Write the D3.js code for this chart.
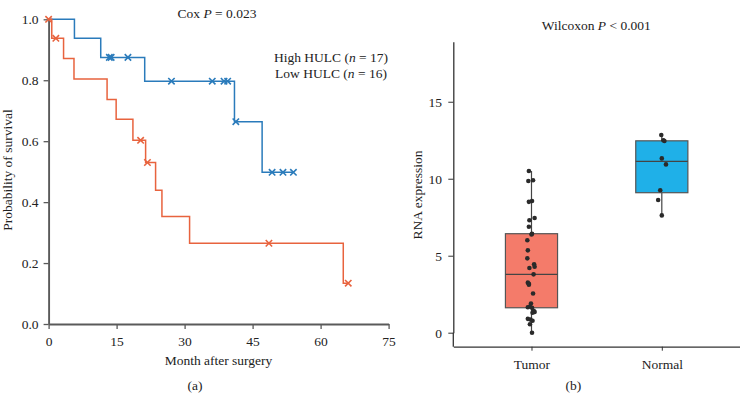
<!DOCTYPE html>
<html>
<head>
<meta charset="utf-8">
<script src="https://cdn.jsdelivr.net/npm/d3@7"></script>
<style>
html,body{margin:0;padding:0;background:#fff;}
svg{display:block;font-family:"Liberation Serif","Times New Roman",serif;}
</style>
</head>
<body>
<svg id="chart" width="740" height="405"></svg>
<script>
// ---------- Data (a): Kaplan-Meier ----------
const kmXTicks = [0, 15, 30, 45, 60, 75];
const kmYTicks = [0.0, 0.2, 0.4, 0.6, 0.8, 1.0];
const highEventTimes = [5.7, 11.5, 21.2, 41.0, 47.1];
const highSurvival   = [0.9375, 0.875, 0.797, 0.664, 0.498];
const highCensorTimes = [13.4, 13.8, 17.5, 27.1, 36.1, 38.7, 39.5, 41.3, 49.3, 51.7, 54.0];
const highEnd = 54.0;
const lowEventTimes = [0.7, 3.3, 5.6, 12.9, 14.9, 18.6, 21.4, 23.6, 25.0, 31.1, 65.0];
const lowSurvival   = [0.9375, 0.871, 0.804, 0.737, 0.672, 0.603, 0.53, 0.439, 0.353, 0.265, 0.134];
const lowCensorTimes = [0, 1.6, 20.3, 21.8, 48.6, 66.1];
const lowEnd = 66.1;

// ---------- Data (b): box plot ----------
const groups = ["Tumor", "Normal"];
const rnaYTicks = [0, 5, 10, 15];
const tumorValues = [10.5, 9.9, 9.85, 8.55, 8.5, 7.45, 7.3, 6.88, 6.43, 6.38, 6.0, 5.35, 4.83, 4.45, 4.28, 4.2, 3.79,
  3.25, 3.18, 3.12, 2.55, 1.9, 1.7, 1.65, 1.62, 1.42, 1.35, 1.3, 0.9, 0.85, 0.78, 0.55, 0.0];
const tumorJitter = [-0.05, 0.03, -0.06, 0.01, -0.05, 0.06, -0.04, -0.05, 0.01, 0.0, -0.08, -0.07, -0.08, 0.05, 0.06, -0.04, 0.04,
  -0.07, -0.05, -0.05, 0.03, -0.01, -0.03, -0.07, 0.01, 0.04, 0.06, 0.02, -0.07, -0.02, 0.02, -0.03, 0.01];
const normalValues = [12.84, 12.5, 12.45, 11.32, 10.93, 9.25, 8.62, 7.62];
const normalJitter = [-0.01, 0.03, 0.05, 0.0, 0.08, -0.03, -0.07, 0.0];

// ---------- Setup ----------
const svg = d3.select("#chart");
const serif = '"Liberation Serif","Times New Roman",serif';
const FS = 13.5;
const blue = "#2a7bbb", red = "#e8633e";

// ===== Panel (a) =====
const xA = d3.scaleLinear().domain([0, 75]).range([48.6, 388.6]);
const yA = d3.scaleLinear().domain([0, 1]).range([324, 19.3]);

const gA = svg.append("g");
const axXA = gA.append("g").attr("transform", `translate(0,${yA(0)})`)
  .call(d3.axisBottom(xA).tickValues(kmXTicks).tickFormat(d3.format("d")).tickSize(5).tickSizeOuter(0));
const axYA = gA.append("g").attr("transform", `translate(${xA(0)},0)`)
  .call(d3.axisLeft(yA).tickValues(kmYTicks).tickFormat(d3.format(".1f")).tickSize(5).tickSizeOuter(0));
[axXA, axYA].forEach(a => {
  a.select(".domain").attr("stroke", "#5a5a5a").attr("stroke-width", 1.9);
  a.selectAll(".tick line").attr("stroke", "#5a5a5a").attr("stroke-width", 1.3);
  a.selectAll(".tick text").attr("font-family", serif).attr("font-size", FS).attr("fill", "#222");
});
axXA.selectAll(".tick text").attr("dy", "1.0em");
axYA.selectAll(".tick text").attr("dx", "-0.15em");

function stepPath(times, surv, end) {
  const pts = [[0, 1]];
  let s = 1;
  times.forEach((t, i) => { pts.push([t, s]); s = surv[i]; pts.push([t, s]); });
  pts.push([end, s]);
  return d3.line().x(d => xA(d[0])).y(d => yA(d[1]))(pts);
}
function survAt(times, surv, t) {
  let s = 1;
  times.forEach((et, i) => { if (et <= t) s = surv[i]; });
  return s;
}
function drawCurve(times, surv, end, censor, color) {
  gA.append("path").attr("d", stepPath(times, surv, end))
    .attr("fill", "none").attr("stroke", color).attr("stroke-width", 1.5);
  const m = 3.2;
  censor.forEach(t => {
    const cx = xA(t), cy = yA(survAt(times, surv, t));
    gA.append("path")
      .attr("d", `M${cx - m},${cy - m}L${cx + m},${cy + m}M${cx - m},${cy + m}L${cx + m},${cy - m}`)
      .attr("stroke", color).attr("stroke-width", 1.6).attr("fill", "none");
  });
}
drawCurve(highEventTimes, highSurvival, highEnd, highCensorTimes, blue);
drawCurve(lowEventTimes, lowSurvival, lowEnd, lowCensorTimes, red);

const tA = gA.append("text").attr("x", 217).attr("y", 18).attr("text-anchor", "middle")
  .attr("font-size", FS).attr("fill", "#222");
tA.append("tspan").text("Cox ");
tA.append("tspan").attr("font-style", "italic").text("P");
tA.append("tspan").text(" = 0.023");

[["High HULC (", "n", " = 17)", 62], ["Low HULC (", "n", " = 16)", 78]].forEach(d => {
  const t = gA.append("text").attr("x", 331).attr("y", d[3]).attr("text-anchor", "middle")
    .attr("font-size", FS).attr("fill", "#222");
  t.append("tspan").text(d[0]);
  t.append("tspan").attr("font-style", "italic").text(d[1]);
  t.append("tspan").text(d[2]);
});

gA.append("text").attr("x", 218.5).attr("y", 365).attr("text-anchor", "middle")
  .attr("font-size", FS).attr("fill", "#222").text("Month after surgery");
gA.append("text").attr("transform", "translate(12,170) rotate(-90)").attr("text-anchor", "middle")
  .attr("font-size", FS).attr("fill", "#222").text("Probability of survival");
gA.append("text").attr("x", 195).attr("y", 390).attr("text-anchor", "middle")
  .attr("font-size", FS).attr("fill", "#222").text("(a)");

// ===== Panel (b) =====
const xB = d3.scalePoint().domain(groups).range([453.3, 740]).padding(0.6);
const yB = d3.scaleLinear().domain([0, 18.9]).range([332.7, 41.7]);
const boxW = xB.step() * 0.4;

const gB = svg.append("g");
const axYB = gB.append("g").attr("transform", `translate(453.3,0)`)
  .call(d3.axisLeft(yB).tickValues(rnaYTicks).tickSize(5).tickSizeOuter(0));
const axXB = gB.append("g").attr("transform", `translate(0,346.7)`)
  .call(d3.axisBottom(xB).tickSize(4).tickSizeOuter(0));
gB.append("line").attr("x1", 453.3).attr("x2", 453.3).attr("y1", yB(0)).attr("y2", 346.7)
  .attr("stroke", "#333").attr("stroke-width", 1.3);
[axXB, axYB].forEach(a => {
  a.select(".domain").attr("stroke", "#333").attr("stroke-width", 1.3);
  a.selectAll(".tick line").attr("stroke", "#333").attr("stroke-width", 1);
  a.selectAll(".tick text").attr("font-family", serif).attr("font-size", FS).attr("fill", "#222");
});
axYB.selectAll(".tick text").attr("dx", "-0.25em");
axXB.selectAll(".tick text").attr("dy", "1.1em");

const fills = { Tumor: "#f47b6a", Normal: "#1fb0e8" };
const dataB = { Tumor: [tumorValues, tumorJitter], Normal: [normalValues, normalJitter] };
groups.forEach(g => {
  const vals = dataB[g][0].slice().sort(d3.ascending);
  const q1 = d3.quantile(vals, 0.25), med = d3.quantile(vals, 0.5), q3 = d3.quantile(vals, 0.75);
  const iqr = q3 - q1;
  const lo = d3.min(vals.filter(v => v >= q1 - 1.5 * iqr));
  const hi = d3.max(vals.filter(v => v <= q3 + 1.5 * iqr));
  const cx = xB(g);
  gB.append("line").attr("x1", cx).attr("x2", cx).attr("y1", yB(hi)).attr("y2", yB(lo))
    .attr("stroke", "#444").attr("stroke-width", 1.2);
  gB.append("rect").attr("x", cx - boxW / 2).attr("width", boxW)
    .attr("y", yB(q3)).attr("height", yB(q1) - yB(q3))
    .attr("fill", fills[g]).attr("stroke", "#555").attr("stroke-width", 1.2);
  gB.append("line").attr("x1", cx - boxW / 2).attr("x2", cx + boxW / 2).attr("y1", yB(med)).attr("y2", yB(med))
    .attr("stroke", "#444").attr("stroke-width", 1.2);
  const [v, j] = dataB[g];
  gB.selectAll(null).data(v).enter().append("circle")
    .attr("cx", (d, i) => cx + j[i] * boxW).attr("cy", d => yB(d)).attr("r", 2.3)
    .attr("fill", "#2a2a2a");
});

const tB = gB.append("text").attr("x", 596.3).attr("y", 30).attr("text-anchor", "middle")
  .attr("font-size", FS).attr("fill", "#222");
tB.append("tspan").text("Wilcoxon ");
tB.append("tspan").attr("font-style", "italic").text("P");
tB.append("tspan").text(" < 0.001");

gB.append("text").attr("transform", "translate(422,195) rotate(-90)").attr("text-anchor", "middle")
  .attr("font-size", FS).attr("fill", "#222").text("RNA expression");
gB.append("text").attr("x", 573.3).attr("y", 390).attr("text-anchor", "middle")
  .attr("font-size", FS).attr("fill", "#222").text("(b)");
</script>
</body>
</html>
